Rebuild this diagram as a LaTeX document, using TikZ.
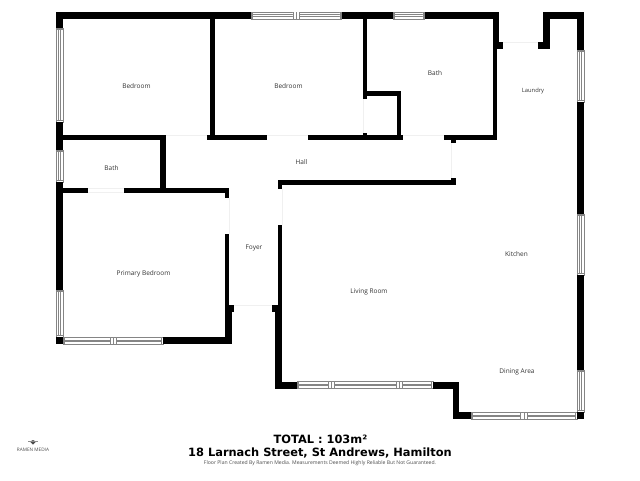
\documentclass[tikz,border=0pt]{standalone}
\usepackage{fontspec}
\setmainfont{Open Sans}
\newfontfamily\verafont{DejaVu Sans}
\tikzset{
  x=1pt,y=-1pt,
  wall/.style={fill=black,draw=none},
  glass/.style={draw=black!48,line width=0.4pt,fill=white},
  room/.style={font=\fontsize{6.5}{8}\selectfont,text=black!80,inner sep=0pt},
  titletext/.style={font=\verafont\bfseries\fontsize{11.4}{13}\selectfont,text=black,inner sep=0pt},
  finetext/.style={font=\fontsize{5.1}{6}\selectfont,text=black!70,inner sep=0pt},
  sill/.style={draw=black!6,line width=0.4pt}
}
% horizontal window: x1,x2,y1,y2
\newcommand{\hwin}[4]{%
  \draw[glass] (#1,#3) rectangle (#2,#4);
  \draw[glass] (#1+1.6,#3+2.6) -- (#2-1.6,#3+2.6) (#1+1.6,#4-2.6) -- (#2-1.6,#4-2.6);
  \draw[glass] (#1+1.6,#3) -- (#1+1.6,#4) (#2-1.6,#3) -- (#2-1.6,#4);
}
% mullion of a horizontal window: x1,x2,y1,y2
\newcommand{\hmul}[4]{%
  \fill[white] (#1,#3+.3) rectangle (#2,#4-.3);
  \draw[glass] (#1,#3) -- (#1,#4) (#2,#3) -- (#2,#4) ({(#1+#2)/2},#3) -- ({(#1+#2)/2},#4);
}
% vertical window: x1,x2,y1,y2
\newcommand{\vwin}[4]{%
  \draw[glass] (#1,#3) rectangle (#2,#4);
  \draw[glass] (#1+2.6,#3+1.6) -- (#1+2.6,#4-1.6) (#2-2.6,#3+1.6) -- (#2-2.6,#4-1.6);
  \draw[glass] (#1,#3+1.6) -- (#2,#3+1.6) (#1,#4-1.6) -- (#2,#4-1.6);
}
\newcommand{\wl}[4]{\fill[wall] (#1,#2) rectangle (#3,#4);}
\begin{document}
\begin{tikzpicture}
\useasboundingbox (0,0) rectangle (640,480);
\fill[white] (0,0) rectangle (640,480);
% door thresholds
\draw[sill] (166,135.5) -- (207,135.5) (267,135.5) -- (308,135.5) (403,135.5) -- (444,135.5);
\draw[sill] (88,188.5) -- (124,188.5) (88,192.5) -- (124,192.5);
\draw[sill] (229,198) -- (229,234) (282,189) -- (282,225);
\draw[sill] (234,305.5) -- (272,305.5);
\draw[sill] (451.5,143) -- (451.5,178);
\draw[sill] (363,99) -- (363,133);
\draw[sill] (503,42.5) -- (538,42.5);
% windows
\hwin{251}{341.5}{12}{19}\hmul{292.7}{299.3}{12}{19}
\hwin{393}{424.5}{12}{19}
\vwin{56}{63}{28}{122}
\vwin{56}{63}{150}{182}
\vwin{56}{63}{290}{337}
\hwin{63}{163}{337.5}{344}\hmul{110}{116}{337.5}{344}
\hwin{297}{433}{381.5}{388}\hmul{328.5}{334.5}{381.5}{388}\hmul{396}{402.5}{381.5}{388}
\hwin{471}{577}{412.5}{419}\hmul{520.5}{527}{412.5}{419}
\vwin{577}{584}{50}{102}
\vwin{577}{584}{214}{275}
\vwin{577}{584}{370}{412}
% outer walls
\wl{56}{12}{251}{19}
\wl{56}{12}{63}{28}
\wl{56}{122}{63}{150}
\wl{56}{182}{63}{290}
\wl{56}{337}{63}{344}
\wl{341.5}{12}{393}{19}
\wl{424.5}{12}{499}{19}
\wl{493}{12}{499}{42}
\wl{493}{42}{502.7}{49.3}
\wl{492.5}{49}{497.3}{140}
\wl{543}{12}{584}{19}
\wl{543}{12}{550}{49.3}
\wl{537.7}{42.3}{550}{49.3}
\wl{577}{12}{584}{50}
\wl{577}{102}{584}{214}
\wl{577}{275}{584}{370}
\wl{577}{412}{584}{419}
\wl{163}{337}{232}{344}
\wl{225}{312}{232}{344}
\wl{225}{305}{234.3}{312}
\wl{225}{234.3}{229.3}{305}
\wl{271.7}{305}{282.3}{312}
\wl{275.3}{312}{282.3}{388}
\wl{277.7}{225}{282.3}{305}
\wl{275.3}{381.5}{297}{388.5}
\wl{433}{381.5}{459.3}{388.5}
\wl{452.7}{381.5}{459.3}{419}
\wl{452.7}{412.3}{471}{419}
% inner walls
\wl{210}{19}{215}{135}
\wl{63}{135}{166}{140}
\wl{207.3}{135}{267}{140}
\wl{308}{135}{402.7}{140}
\wl{444}{135}{497}{140}
\wl{160.3}{140}{165.7}{190}
\wl{63}{188.3}{88}{193}
\wl{124}{188.3}{229.3}{193}
\wl{224.7}{193}{229.3}{197.5}
\wl{362.5}{19}{367.3}{99.3}
\wl{367}{91}{401.3}{96}
\wl{396.7}{91}{401.3}{135}
\wl{362.7}{133}{367}{135}
\wl{451.2}{140}{456}{143.3}
\wl{277.5}{179.5}{456}{184.5}
\wl{451.2}{178}{456}{179.5}
\wl{277.5}{184.5}{282}{188.5}
% labels
\node[room] (n1) at (136.5,86.2) {Bedroom};
\node[room] (n2) at (288.5,86.2) {Bedroom};
\node[room] (n3) at (435,73) {Bath};
\node[room,font=\fontsize{5.8}{7}\selectfont] (n4) at (533,90.5) {Laundry};
\node[room] (n5) at (301.5,161.7) {Hall};
\node[room] (n6) at (111.5,168.5) {Bath};
\node[room] (n7) at (254,247.5) {Foyer};
\node[room] (n8) at (143.5,274.2) {Primary Bedroom};
\node[room] (n9) at (369,291.7) {Living Room};
\node[room] (n10) at (516.5,254.2) {Kitchen};
\node[room] (n11) at (517,372.2) {Dining Area};
\node[titletext] (t1) at (320.5,439) {TOTAL : 103m²};
\node[titletext] (t2) at (320,452.5) {18 Larnach Street, St Andrews, Hamilton};
\node[finetext] (t3) at (320,463.5) {Floor Plan Created By Ramen Media. Measurements Deemed Highly Reliable But Not Guaranteed.};
% logo
\fill[black!70] (30,441.5) -- (33,440) -- (36,441.5) -- (33,444.5) -- cycle;
\draw[black!45,line width=0.3pt] (28,441) -- (38,441);
\node[font=\fontsize{4.7}{5}\selectfont,text=black!70,inner sep=0pt] (l1) at (33,450) {RAMEN MEDIA};
\end{tikzpicture}
\end{document}
